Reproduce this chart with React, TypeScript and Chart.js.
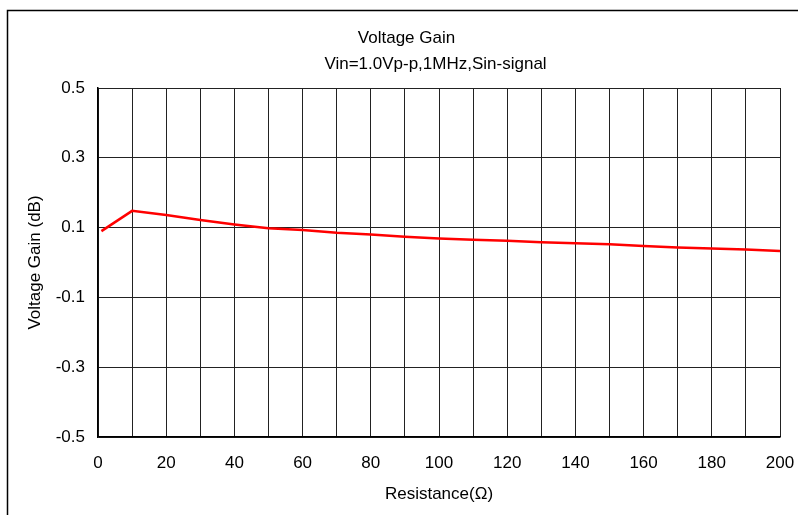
import React, { useEffect, useRef } from "react";
import { Chart, registerables } from "chart.js";

Chart.register(...registerables);

const resistance = [1, 10, 20, 30, 40, 50, 60, 70, 80, 90, 100, 110, 120, 130, 140, 150, 160, 170, 180, 190, 200];
const gain = [0.09, 0.148, 0.136, 0.122, 0.109, 0.098, 0.093, 0.085, 0.08, 0.074, 0.069, 0.065, 0.062, 0.058, 0.055, 0.052, 0.047, 0.043, 0.04, 0.037, 0.033];
const titleText = "Voltage Gain";
const subtitleText = "Vin=1.0Vp-p,1MHz,Sin-signal";
const xTitle = "Resistance(Ω)";
const yTitle = "Voltage Gain (dB)";

const FONT = 'Arial, "Liberation Sans", sans-serif';

const decorPlugin = {
  id: "decor",
  afterDraw(chart: any) {
    const ctx = chart.ctx;
    ctx.save();
    ctx.strokeStyle = "#000";
    ctx.lineWidth = 1.5;
    ctx.strokeRect(7.5, 10.5, 820, 600);
    ctx.fillStyle = "#000";
    ctx.font = `17px ${FONT}`;
    ctx.textAlign = "center";
    ctx.textBaseline = "alphabetic";
    ctx.fillText(titleText, 406.5, 43);
    ctx.fillText(subtitleText, 435.5, 69);
    ctx.restore();
  },
};

export default function App() {
  const ref = useRef<HTMLCanvasElement>(null);
  useEffect(() => {
    if (!ref.current) return;
    const chart = new Chart(ref.current, {
      type: "line",
      data: {
        datasets: [
          {
            data: resistance.map((x, i) => ({ x, y: gain[i] })),
            borderColor: "#ff0000",
            borderWidth: 2.5,
            pointRadius: 0,
            fill: false,
            tension: 0,
          },
        ],
      },
      options: {
        animation: false,
        responsive: false,
        maintainAspectRatio: false,
        layout: { padding: { left: 0, top: 88, right: 18, bottom: 0 } },
        plugins: { legend: { display: false }, title: { display: false }, tooltip: { enabled: false } },
        scales: {
          x: {
            type: "linear",
            min: 0,
            max: 200,
            afterFit: (s: any) => {
              s.height = 78;
              s.paddingLeft = 0;
              s.paddingRight = 0;
            },
            ticks: {
              stepSize: 10,
              autoSkip: false,
              maxRotation: 0,
              padding: 16,
              color: "#000",
              font: { family: FONT, size: 17 },
              callback: (v: any) => (Number(v) % 20 === 0 ? String(v) : ""),
            },
            grid: { color: "#222", lineWidth: 1, drawTicks: false },
            border: { color: "#000", width: 1.5 },
            title: {
              display: true,
              text: xTitle,
              color: "#000",
              font: { family: FONT, size: 17 },
              padding: { top: 0, bottom: 10 },
            },
          },
          y: {
            type: "linear",
            min: -0.5,
            max: 0.5,
            afterFit: (s: any) => {
              s.width = 98;
              s.paddingTop = 0;
              s.paddingBottom = 0;
            },
            ticks: {
              stepSize: 0.2,
              padding: 13,
              color: "#000",
              font: { family: FONT, size: 17 },
              callback: (v: any) => Number(v).toFixed(1),
            },
            grid: { color: "#222", lineWidth: 1, drawTicks: false },
            border: { color: "#000", width: 1.5 },
            title: {
              display: true,
              text: yTitle,
              color: "#000",
              font: { family: FONT, size: 17 },
              padding: { top: 25, bottom: 0 },
            },
          },
        },
      },
      plugins: [decorPlugin],
    });
    return () => chart.destroy();
  }, []);
  return (
    <div style={{ position: "absolute", left: 0, top: 0, width: 798, height: 515, background: "#fff" }}>
      <canvas ref={ref} width={798} height={515} style={{ width: 798, height: 515, display: "block" }} />
    </div>
  );
}
